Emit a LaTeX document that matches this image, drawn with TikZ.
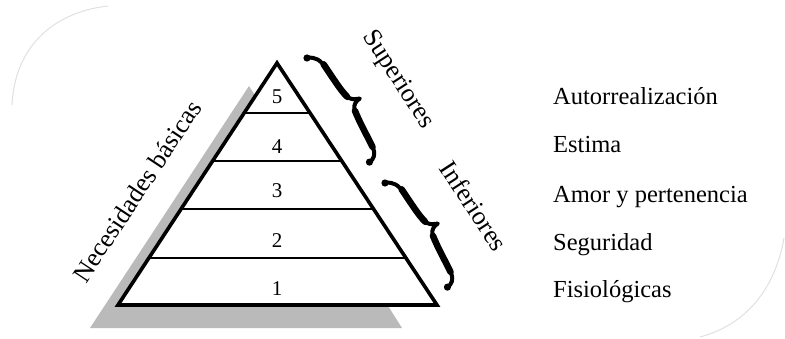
\documentclass[tikz,border=0pt]{standalone}
\usepackage{fontspec}
\setmainfont{Liberation Serif}
\usetikzlibrary{calc}
\begin{document}
\begin{tikzpicture}[x=1pt,y=-1pt,
  lbl/.style={font=\fontsize{26}{30}\selectfont, inner sep=0pt},
  lst/.style={font=\fontsize{24.5}{30}\selectfont, inner sep=0pt, anchor=base west},
  num/.style={font=\fontsize{21}{25}\selectfont, inner sep=0pt, anchor=base},
  brc/.style={line width=6.5pt, line cap=round, line join=round},
  brcthin/.style={line width=4pt, line cap=round, line join=round},
  level/.style={line width=2pt},
  faint/.style={draw=black!12, line width=1pt}]
\useasboundingbox (0,0) rectangle (785,339);
% faint background outline
\draw[faint] (12,105) .. controls (15,45) and (55,12) .. (108,6);
\draw[faint] (784,238) .. controls (775,290) and (745,325) .. (700,337);
% shadow
\fill[black!27] (249,86) -- (90,328) -- (402,328) -- cycle;
% pyramid
\coordinate (A) at (277,63);
\coordinate (B) at (118,305);
\coordinate (C) at (437,305);
\fill[white] (A) -- (B) -- (C) -- cycle;
\foreach \t/\n in {0.205/4, 0.405/3, 0.605/2, 0.805/1}{
  \coordinate (L\n) at ($(A)!\t!(B)$);
  \coordinate (R\n) at ($(A)!\t!(C)$);
  \draw[level] (L\n) -- (R\n);
}
\draw[line width=3.6pt, line join=miter] (A) -- (B) -- (C) -- cycle;
% numbers
\node[num] (n5) at (277,104) {5};
\node[num] (n4) at (277,154) {4};
\node[num] (n3) at (277,198) {3};
\node[num] (n2) at (277,248) {2};
\node[num] (n1) at (277,296) {1};
% braces (local frame: x along the side, y away from the pyramid)
\foreach \bx/\by in {307/58, 385/183}{
  \begin{scope}[shift={(\bx,\by)}]
  \begin{scope}[x={(0.514pt,-0.857pt)}, y={(0.857pt,0.514pt)}]
    \draw[brcthin] (0,0) .. controls (3,8) and (9,10.5) .. (18,11)
      .. controls (35,12) and (50,12.5) .. (56,15.5)
      .. controls (59,17.5) and (61,21) .. (62,24.5)
      .. controls (62,20) and (64,16) .. (68,14.5)
      .. controls (80,12) and (103,11.5) .. (111,10.5)
      .. controls (118,9.5) and (121.5,5) .. (121.5,0);
    \draw[brc] (14,11) .. controls (30,12) and (44,12) .. (54,14.5);
    \draw[brc] (70,14) .. controls (82,12) and (98,11.5) .. (110,10.5);
    \fill (0,0) circle (3.6pt);
    \fill (121.5,0) circle (3.6pt);
  \end{scope}
  \end{scope}
}
% side labels
\node[lbl, rotate=56.5] (nb) at (137,191) {Necesidades básicas};
\node[lbl, rotate=-57] (sup) at (398,80) {Superiores};
\node[lbl, rotate=-57] (inf) at (474,206) {Inferiores};
% list
\node[lst] (t5) at (553,105) {Autorrealización};
\node[lst] (t4) at (553,153) {Estima};
\node[lst] (t3) at (553,203) {Amor y pertenencia};
\node[lst] (t2) at (553,251) {Seguridad};
\node[lst] (t1) at (553,298) {Fisiológicas};
\end{tikzpicture}
\end{document}
